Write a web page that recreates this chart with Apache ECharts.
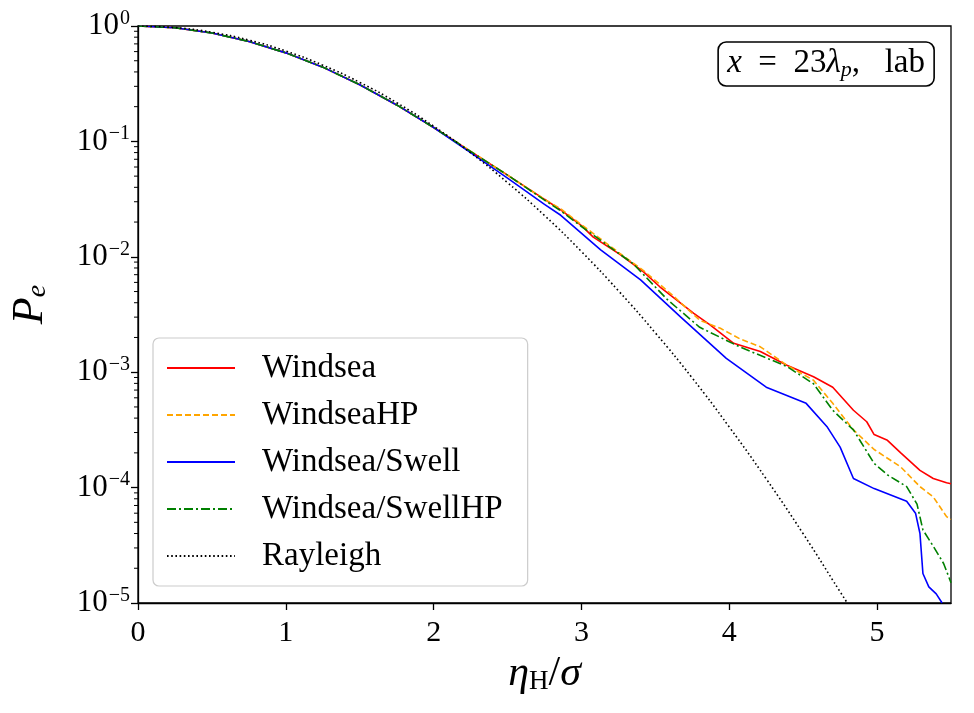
<!DOCTYPE html>
<html>
<head>
<meta charset="utf-8">
<script src="https://cdn.jsdelivr.net/npm/echarts@6/dist/echarts.min.js"></script>
<style>
  html, body { margin: 0; padding: 0; background: #fff; }
  #chart { width: 974px; height: 713px; }
</style>
</head>
<body>
<div id="chart"></div>
<script>
// values (x = eta_H / sigma, P = exceedance probability)
const windseaX = [0, 0.25, 0.5, 0.75, 1, 1.25, 1.5, 1.75, 2, 2.25, 2.5, 2.75, 2.86, 3.0, 3.08, 3.26, 3.42, 3.53, 3.76, 3.87, 4.03, 4.21, 4.39, 4.57, 4.70, 4.84, 4.93, 4.98, 5.07, 5.16, 5.29, 5.38, 5.47, 5.5];
const windseaP = [1, 0.965, 0.87, 0.735, 0.585, 0.44, 0.31, 0.207, 0.132, 0.082, 0.051, 0.0315, 0.0255, 0.0186, 0.0148, 0.0105, 0.00741, 0.0055, 0.00324, 0.00257, 0.00178, 0.00151, 0.00115, 0.000912, 0.000741, 0.000468, 0.000372, 0.000288, 0.000257, 0.0002, 0.000141, 0.00012, 0.00011, 0.000108];

const windseaHPX = [0, 0.25, 0.5, 0.75, 1, 1.25, 1.5, 1.75, 2, 2.25, 2.5, 2.75, 2.86, 3.0, 3.26, 3.42, 3.62, 3.80, 3.94, 4.07, 4.21, 4.39, 4.57, 4.70, 4.84, 4.98, 5.16, 5.29, 5.38, 5.47, 5.5];
const windseaHPP = [1, 0.965, 0.87, 0.735, 0.585, 0.44, 0.31, 0.207, 0.132, 0.082, 0.051, 0.0315, 0.026, 0.019, 0.0107, 0.0076, 0.0046, 0.00282, 0.0024, 0.00195, 0.00166, 0.00115, 0.000851, 0.000537, 0.000316, 0.000214, 0.000151, 0.000102, 0.000083, 0.000056, 0.000053];

const swellX = [0, 0.25, 0.5, 0.75, 1, 1.25, 1.5, 1.75, 2, 2.25, 2.5, 2.75, 2.86, 3.13, 3.40, 3.67, 3.98, 4.25, 4.52, 4.66, 4.75, 4.84, 4.98, 5.20, 5.26, 5.29, 5.31, 5.35, 5.40, 5.44];
const swellP = [1, 0.965, 0.87, 0.735, 0.585, 0.44, 0.31, 0.207, 0.132, 0.080, 0.048, 0.0285, 0.0229, 0.0115, 0.0063, 0.00302, 0.00132, 0.000741, 0.000537, 0.000339, 0.000224, 0.00012, 0.000098, 0.000076, 0.00006, 0.00004, 0.000018, 0.0000138, 0.000012, 0.00001];

const swellHPX = [0, 0.25, 0.5, 0.75, 1, 1.25, 1.5, 1.75, 2, 2.25, 2.5, 2.75, 2.86, 3.0, 3.35, 3.58, 3.80, 4.07, 4.39, 4.57, 4.70, 4.84, 4.98, 5.07, 5.20, 5.27, 5.31, 5.38, 5.45, 5.5];
const swellHPP = [1, 0.965, 0.87, 0.735, 0.585, 0.44, 0.31, 0.207, 0.132, 0.082, 0.051, 0.031, 0.025, 0.0183, 0.0087, 0.00427, 0.00245, 0.00166, 0.00112, 0.000794, 0.000468, 0.000316, 0.000162, 0.000129, 0.000102, 0.000072, 0.000043, 0.000031, 0.000022, 0.000015];

const rayleighX = [0, 0.25, 0.5, 0.75, 1, 1.25, 1.5, 1.75, 2, 2.25, 2.5, 2.75, 3, 3.25, 3.5, 3.75, 4, 4.25, 4.5, 4.75, 4.85];
const rayleighP = [1, 0.969, 0.8825, 0.7548, 0.6065, 0.4578, 0.3247, 0.2165, 0.1353, 0.0796, 0.0439, 0.0228, 0.0111, 0.00508, 0.00219, 0.000889, 0.000335, 0.000119, 0.0000398, 0.0000125, 0.0000079];

const yMinorTicks = [];
for (let e = -5; e < 0; e++) {
  for (let m = 2; m <= 9; m++) yMinorTicks.push(m * Math.pow(10, e));
}

const serif = '"Liberation Serif", "DejaVu Serif", serif';
const pairs = (xs, ps) => xs.map((x, i) => [x, ps[i]]);

const chart = echarts.init(document.getElementById('chart'), null, { renderer: 'canvas' });

const lineSeries = (name, data, color, type, smooth) => ({
  name: name,
  type: 'line',
  data: data,
  showSymbol: false,
  symbol: 'none',
  smooth: smooth || false,
  clip: true,
  animation: false,
  lineStyle: { color: color, width: 1.6, type: type },
  itemStyle: { color: color }
});

const option = {
  animation: false,
  backgroundColor: '#fff',
  grid: {
    left: 137, right: 23, top: 26, bottom: 110,
    show: true, borderColor: '#000', borderWidth: 1.3, backgroundColor: 'transparent'
  },
  title: {
    text: '{i|x}  =  23{i|λ}{sub|p},   lab',
    right: 40, top: 40,
    padding: [5, 9, 5, 9],
    borderColor: '#000', borderWidth: 1.6, borderRadius: 8,
    backgroundColor: '#fff',
    textStyle: {
      fontFamily: serif, fontSize: 33, fontWeight: 'normal', color: '#000',
      rich: {
        i: { fontFamily: serif, fontStyle: 'italic', fontSize: 33, color: '#000' },
        sub: { fontFamily: serif, fontStyle: 'italic', fontSize: 22, color: '#000', padding: [14, 0, 0, 0] }
      }
    }
  },
  legend: {
    orient: 'vertical',
    left: 153, top: 338,
    padding: [12, 25, 12, 13],
    itemWidth: 68, itemHeight: 14, itemGap: 11,
    backgroundColor: 'rgba(255,255,255,0.8)',
    borderColor: '#cccccc', borderWidth: 1.2, borderRadius: 6,
    itemStyle: { opacity: 0 },
    textStyle: { fontFamily: serif, fontSize: 33, color: '#000', lineHeight: 36, padding: [0, 0, 0, 22] },
    data: ['Windsea', 'WindseaHP', 'Windsea/Swell', 'Windsea/SwellHP', 'Rayleigh']
  },
  xAxis: {
    type: 'value', min: 0, max: 5.5, interval: 1,
    name: '{i|η}{sub|H}{n|/}{i|σ}',
    nameLocation: 'middle', nameGap: 48,
    nameTextStyle: {
      fontFamily: serif, fontSize: 42, color: '#000',
      rich: {
        i: { fontFamily: serif, fontStyle: 'italic', fontSize: 42, color: '#000' },
        n: { fontFamily: serif, fontSize: 42, color: '#000' },
        sub: { fontFamily: serif, fontSize: 27, color: '#000', padding: [16, 0, 0, 0] }
      }
    },
    axisLine: { show: true, lineStyle: { color: '#000', width: 1.3 } },
    axisTick: { show: true, inside: false, length: 7, lineStyle: { color: '#000', width: 1.3 } },
    axisLabel: { fontFamily: serif, fontSize: 30, color: '#000', margin: 15, showMaxLabel: false },
    splitLine: { show: false }
  },
  yAxis: {
    type: 'log', logBase: 10, min: 1e-5, max: 1,
    name: '{i|P}{sub|e}',
    nameLocation: 'middle', nameGap: 86, nameRotate: 90,
    nameTextStyle: {
      fontFamily: serif, fontSize: 42, color: '#000', padding: [0, 0, 0, 20],
      rich: {
        i: { fontFamily: serif, fontStyle: 'italic', fontSize: 44, color: '#000' },
        sub: { fontFamily: serif, fontStyle: 'italic', fontSize: 28, color: '#000', padding: [16, 0, 0, 0] }
      }
    },
    axisLine: { show: true, lineStyle: { color: '#000', width: 1.3 } },
    axisTick: { show: true, inside: false, length: 7, lineStyle: { color: '#000', width: 1.3 } },
    axisLabel: {
      margin: 8,
      formatter: function (v) {
        const e = Math.round(Math.log10(v));
        return '{b|10}{s|' + (e < 0 ? '\u2212' + (-e) : e) + '}';
      },
      rich: {
        b: { fontFamily: serif, fontSize: 31, color: '#000' },
        s: { fontFamily: serif, fontSize: 20, color: '#000', padding: [0, 0, 15, 1] }
      }
    },
    splitLine: { show: false }
  },
  series: [
    lineSeries('Windsea', pairs(windseaX, windseaP), '#ff0000', 'solid'),
    lineSeries('WindseaHP', pairs(windseaHPX, windseaHPP), '#ffa500', [6, 3]),
    lineSeries('Windsea/Swell', pairs(swellX, swellP), '#0000ff', 'solid'),
    lineSeries('Windsea/SwellHP', pairs(swellHPX, swellHPP), '#008000', [9, 3, 2, 3]),
    lineSeries('Rayleigh', pairs(rayleighX, rayleighP), '#000000', [1.6, 2.6], true)
  ]
};

chart.setOption(option);

// minor ticks of the log axis at 2..9 x 10^n, placed through the axis scale
const x0 = chart.convertToPixel({ xAxisIndex: 0 }, 0);
const minorTicks = yMinorTicks.map(function (v) {
  const py = chart.convertToPixel({ yAxisIndex: 0 }, v);
  return {
    type: 'line',
    silent: true,
    shape: { x1: x0 - 4, y1: py, x2: x0, y2: py },
    style: { stroke: '#000', lineWidth: 1 }
  };
});
chart.setOption({ graphic: minorTicks });
</script>
</body>
</html>
